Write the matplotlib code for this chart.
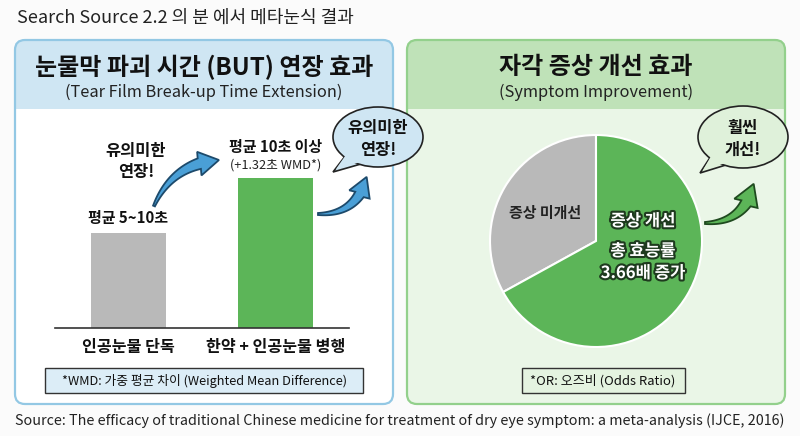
import matplotlib
matplotlib.use("Agg")
import numpy as np
import matplotlib.pyplot as plt
from matplotlib.patches import FancyBboxPatch, Ellipse, Polygon, Rectangle
import matplotlib.patheffects as pe

plt.rcParams['font.family'] = ['Noto Sans CJK KR', 'DejaVu Sans']

# ---- data ----
title_text = "Search Source 2.2 의 분 에서 메타눈식 결과"
source_text = "Source: The efficacy of traditional Chinese medicine for treatment of dry eye symptom: a meta-analysis (IJCE, 2016)"
bar_categories = ["인공눈물 단독", "한약 + 인공눈물 병행"]
bar_values = [7.5, 11.85]
bar_labels = ["평균 5~10초", "평균 10초 이상"]
bar_sublabel = "(+1.32초 WMD*)"
pie_labels = ["증상 미개선", "증상 개선"]
pie_values = [33, 67]
left_title = "눈물막 파괴 시간 (BUT) 연장 효과"
left_sub = "(Tear Film Break-up Time Extension)"
right_title = "자각 증상 개선 효과"
right_sub = "(Symptom Improvement)"
left_note = "*WMD: 가중 평균 차이 (Weighted Mean Difference)"
right_note = "*OR: 오즈비 (Odds Ratio)"

W, H = 800, 436
fig = plt.figure(figsize=(W / 100, H / 100), dpi=100)
fig.patch.set_facecolor('#fbfbfb')

def px_axes(x0, y0, x1, y1, z):
    a = fig.add_axes([x0 / W, 1 - y1 / H, (x1 - x0) / W, (y1 - y0) / H])
    a.set_zorder(z)
    return a

bg = px_axes(0, 0, W, H, 0)
bg.set_xlim(0, W); bg.set_ylim(H, 0); bg.axis('off')

def panel(x0, x1, y0, y1, hy, body, head, edge):
    bg.add_patch(FancyBboxPatch((x0, y0), x1 - x0, y1 - y0,
                                boxstyle="round,pad=0,rounding_size=10",
                                fc=body, ec='none'))
    bg.add_patch(FancyBboxPatch((x0, y0), x1 - x0, (hy - y0) + 12,
                                boxstyle="round,pad=0,rounding_size=10",
                                fc=head, ec='none'))
    bg.add_patch(Rectangle((x0, hy - 1), x1 - x0, 13, fc=body, ec='none'))
    bg.add_patch(FancyBboxPatch((x0, y0), x1 - x0, y1 - y0,
                                boxstyle="round,pad=0,rounding_size=10",
                                fc='none', ec=edge, lw=1.6))

panel(15, 393, 40, 404, 110, '#ffffff', '#cfe6f3', '#93c8e4')
panel(407, 785, 40, 404, 110, '#eaf6e7', '#bfe2b8', '#93d08c')

top = px_axes(0, 0, W, H, 3)
top.set_xlim(0, W); top.set_ylim(H, 0); top.axis('off'); top.patch.set_alpha(0)

top.text(17, 18, title_text, fontsize=13, ha='left', va='center', color='#222222')
top.text(15, 421, source_text, fontsize=10.3, ha='left', va='center', color='#222222')

top.text(204, 67, left_title, fontsize=17.3, fontweight='bold', ha='center', va='center', color='#111111')
top.text(204, 92, left_sub, fontsize=11.8, ha='center', va='center', color='#222222')
top.text(596, 67, right_title, fontsize=17.3, fontweight='bold', ha='center', va='center', color='#111111')
top.text(596, 92, right_sub, fontsize=11.8, ha='center', va='center', color='#222222')

# ---- bar chart ----
axb = px_axes(55, 138, 349, 328, 1)
axb.patch.set_alpha(0)
xs = list(range(len(bar_values)))
axb.bar(xs, bar_values, width=0.51, color=['#b9b9b9', '#5cb558'])
axb.set_xlim(-0.5, 1.5)
axb.set_ylim(0, 15)
for s in ['top', 'right', 'left']:
    axb.spines[s].set_visible(False)
axb.spines['bottom'].set_color('#333333')
axb.spines['bottom'].set_linewidth(1.2)
axb.set_yticks([])
axb.set_xticks(xs)
axb.set_xticklabels(bar_categories, fontsize=11.6, fontweight='bold', color='#111111')
axb.tick_params(axis='x', length=0, pad=8)
axb.text(xs[0], bar_values[0] + 1.2, bar_labels[0], ha='center', va='center',
         fontsize=10.8, fontweight='bold', color='#111111')
axb.text(xs[1], bar_values[1] + 2.45, bar_labels[1], ha='center', va='center',
         fontsize=10.8, fontweight='bold', color='#111111')
axb.text(xs[1], bar_values[1] + 1.05, bar_sublabel, ha='center', va='center',
         fontsize=9.2, color='#222222')

top.text(136, 151, "유의미한", fontsize=11.8, fontweight='bold', ha='center', va='center', color='#111111')
top.text(136, 172, "연장!", fontsize=11.8, fontweight='bold', ha='center', va='center', color='#111111')

def tapered_arrow(p0, p1, bend, w0, w1, head_w, head_len, fc, ec):
    p0 = np.array(p0, float); p1 = np.array(p1, float)
    d = p1 - p0
    L = np.hypot(*d)
    n = np.array([d[1], -d[0]]) / L
    c = (p0 + p1) / 2 + n * bend * L
    def B(t):
        return (1 - t) ** 2 * p0 + 2 * (1 - t) * t * c + t ** 2 * p1
    def dB(t):
        return 2 * (1 - t) * (c - p0) + 2 * t * (p1 - c)
    th = 1 - head_len / (L * 1.1)
    ts = np.linspace(0, th, 30)
    left, right = [], []
    for t in ts:
        tg = dB(t); tg = tg / np.hypot(*tg)
        nn = np.array([-tg[1], tg[0]])
        w = (w0 + (w1 - w0) * (t / th)) / 2
        pt = B(t)
        left.append(pt + nn * w); right.append(pt - nn * w)
    base = B(th)
    hd = p1 - base; hd = hd / np.hypot(*hd)
    hn = np.array([-hd[1], hd[0]])
    tip = base + hd * head_len
    pts = left + [base + hn * head_w / 2, tip, base - hn * head_w / 2] + right[::-1]
    top.add_patch(Polygon(pts, closed=True, fc=fc, ec=ec, lw=1.3, joinstyle='miter', zorder=5))

tapered_arrow((154, 206), (219, 160), 0.3, 2, 11, 24, 20, '#4a9fd6', '#1d4a6b')
tapered_arrow((318, 214), (367, 176), -0.4, 2, 10, 22, 19, '#4a9fd6', '#1d4a6b')
tapered_arrow((705, 223), (754, 183), -0.4, 2, 11, 25, 21, '#5cb558', '#1f4a1f')

def bubble(cx, cy, w, h, tail, fc, lines, fs=11.8):
    tx, ty = tail
    top.add_patch(Polygon([(cx - w * 0.33, cy + h * 0.25), (tx, ty), (cx - w * 0.12, cy + h * 0.42)],
                          closed=True, fc=fc, ec='#222222', lw=1.2, zorder=6))
    top.add_patch(Ellipse((cx, cy), w, h, fc=fc, ec='#222222', lw=1.2, zorder=6))
    top.add_patch(Polygon([(cx - w * 0.33 + 1, cy + h * 0.25 - 2), (tx + 3, ty - 3), (cx - w * 0.12, cy + h * 0.42 - 2)],
                          closed=True, fc=fc, ec='none', zorder=7))
    n = len(lines)
    for i, t in enumerate(lines):
        top.text(cx, cy + (i - (n - 1) / 2) * 22 + 2, t, fontsize=fs, fontweight='bold',
                 ha='center', va='center', color='#111111', zorder=8)

bubble(378, 137, 90, 60, (333, 172), '#cfe6f3', ["유의미한", "연장!"])
bubble(743, 137, 90, 62, (700, 173), '#dff1da', ["훨씬", "개선!"])

# footnote boxes
top.add_patch(Rectangle((45, 368), 318, 25, fc='#dcedf7', ec='#333333', lw=1.0))
top.text(204, 381, left_note, fontsize=9.2, ha='center', va='center', color='#111111')
top.add_patch(Rectangle((522, 368), 163, 25, fc='#e4f3e0', ec='#333333', lw=1.0))
top.text(603, 381, right_note, fontsize=9.4, ha='center', va='center', color='#111111')

# ---- pie ----
axp = px_axes(596 - 106, 241 - 106, 596 + 106, 241 + 106, 1)
axp.patch.set_alpha(0)
axp.pie(pie_values, colors=['#b9b9b9', '#5cb558'], startangle=90, counterclock=True,
        wedgeprops=dict(edgecolor='white', linewidth=1.5))
axp.set_xlim(-1, 1); axp.set_ylim(-1, 1)
axp.set_aspect('equal')

top.text(545, 213, pie_labels[0], fontsize=10.8, fontweight='bold', ha='center', va='center', color='#222222')
stroke = [pe.withStroke(linewidth=3, foreground='#1e3a1e')]
top.text(643, 221, pie_labels[1], fontsize=12, fontweight='bold', ha='center', va='center',
         color='white', path_effects=stroke)
top.text(643, 251, "총 효능률", fontsize=12, fontweight='bold', ha='center', va='center',
         color='white', path_effects=stroke)
top.text(643, 273, "3.66배 증가", fontsize=12, fontweight='bold', ha='center', va='center',
         color='white', path_effects=stroke)

fig.savefig("out.png", dpi=100, facecolor=fig.get_facecolor())
